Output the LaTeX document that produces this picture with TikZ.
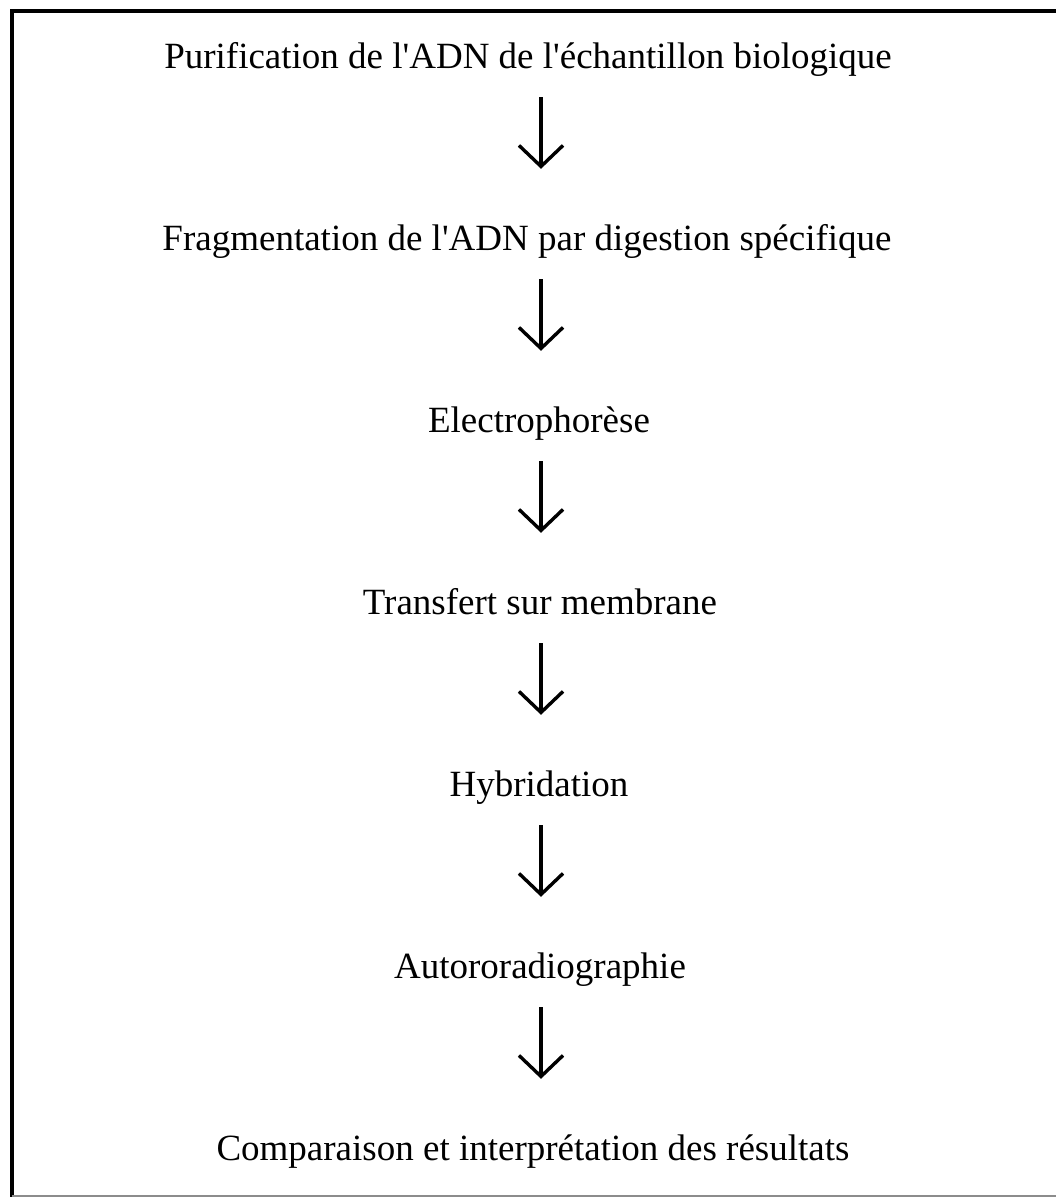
\documentclass[tikz,border=0pt]{standalone}
\usepackage{fontspec}
\setmainfont{Liberation Serif}
\usepackage{xcolor}
\usetikzlibrary{arrows.meta,positioning}
\newcommand{\apos}{\textquotesingle}

\begin{document}
\begin{tikzpicture}[x=1pt,y=-1pt,
 stepbox/.style={anchor=base,inner sep=0pt,text height=25pt,text depth=8pt,font=\fontsize{37}{44}\selectfont},
 link/.style={-{Straight Barb[length=21pt,width=44pt,line width=3.4pt]},line width=3.3pt,shorten <=21pt,shorten >=56pt},
 frameline/.style={line width=4pt}]
 \useasboundingbox (0,0) rectangle (1056,1199);
 \draw[frameline] (1056,11) -- (12,11) -- (12,1197);
 \draw[line width=2pt,black!45] (12,1196) -- (1056,1196);
 \coordinate (axis) at (541,0);
 \node[stepbox] (purif) at (528,68) {Purification de l\apos ADN de l\apos échantillon biologique};
 \node[stepbox] (frag) at (527,250) {Fragmentation de l\apos ADN par digestion spécifique};
 \node[stepbox] (electro) at (539,432) {Electrophorèse};
 \node[stepbox] (transf) at (540,614) {Transfert sur membrane};
 \node[stepbox] (hybrid) at (539,796) {Hybridation};
 \node[stepbox] (autorad) at (540,978) {Autororadiographie};
 \node[stepbox] (compar) at (533,1160) {Comparaison et interprétation des résultats};
 \draw[link] (purif.south -| axis) -- (frag.north -| axis);
 \draw[link] (frag.south -| axis) -- (electro.north -| axis);
 \draw[link] (electro.south -| axis) -- (transf.north -| axis);
 \draw[link] (transf.south -| axis) -- (hybrid.north -| axis);
 \draw[link] (hybrid.south -| axis) -- (autorad.north -| axis);
 \draw[link] (autorad.south -| axis) -- (compar.north -| axis);
\end{tikzpicture}
\end{document}
